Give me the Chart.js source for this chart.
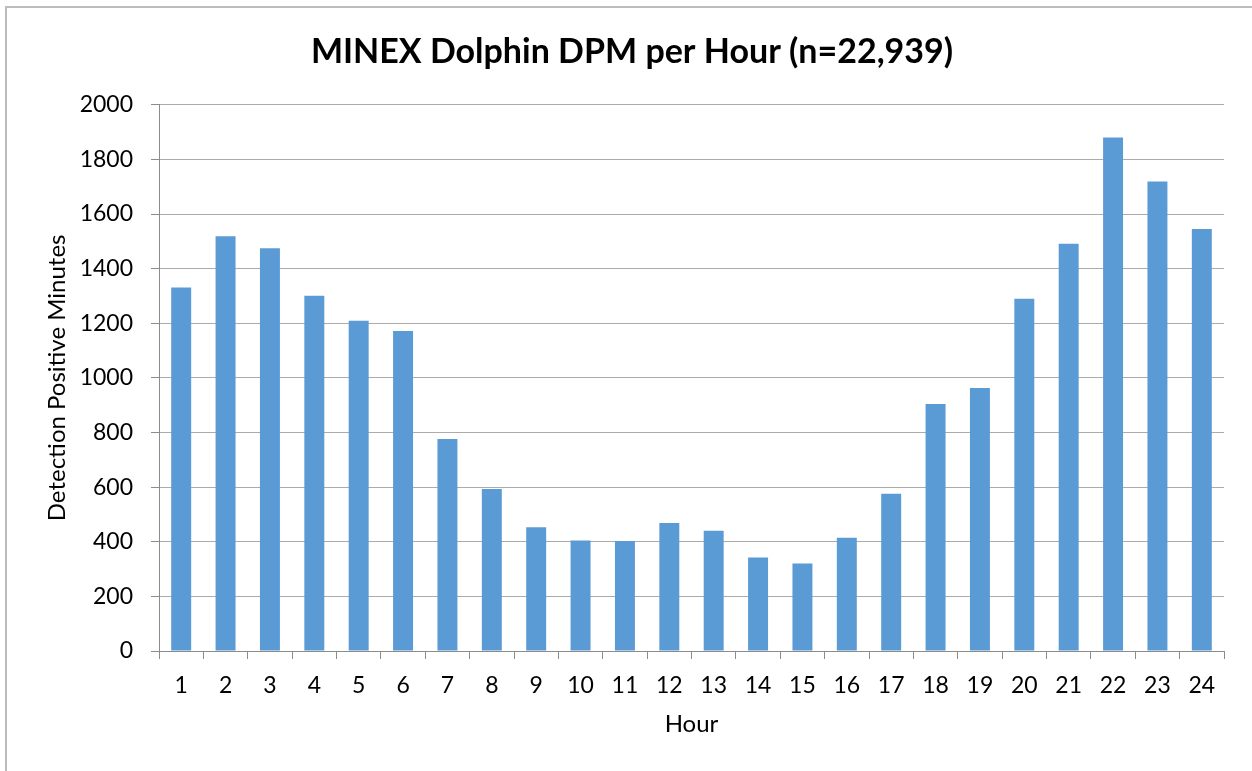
<!DOCTYPE html>
<html>
<head>
<meta charset="utf-8">
<script src="https://cdn.jsdelivr.net/npm/chart.js@4.4.1/dist/chart.umd.min.js"></script>
<style>
  html, body { margin: 0; padding: 0; background: #fff; overflow: hidden; }
  #frame {
    position: absolute; left: 5px; top: 6px; width: 1300px; height: 820px;
    border-left: 2px solid #bcbcbc; border-top: 2px solid #bcbcbc;
  }
  #wrap { position: absolute; left: 0; top: 0; width: 1252px; height: 771px; }
</style>
</head>
<body>
<div id="frame"></div>
<div id="wrap"><canvas id="grafico"></canvas></div>
<script>
// dati
var ore = ["1","2","3","4","5","6","7","8","9","10","11","12",
           "13","14","15","16","17","18","19","20","21","22","23","24"];
var dpm = [1331, 1519, 1475, 1301, 1209, 1172, 776, 593, 453, 405, 403, 469,
           440, 342, 320, 415, 576, 904, 963, 1290, 1491, 1880, 1719, 1545];
var yMin = 0;
var yMax = 2000;
var yStep = 200;

var titolo = "MINEX Dolphin DPM per Hour (n=22,939)";
var titoloX = "Hour";
var titoloY = "Detection Positive Minutes";

var font = "Lato, 'Open Sans', sans-serif";
var grigioAsse = "#8c8c8c";
var grigioGriglia = "#ababab";

Chart.defaults.font.family = font;
Chart.defaults.color = "#000";

var ctx = document.getElementById("grafico");
var myChart = new Chart(ctx, {
    type: 'bar',
    data: {
        labels: ore,
        datasets: [{
            label: "DPM",
            data: dpm,
            backgroundColor: "#5b9bd5",
            borderWidth: 0,
            barPercentage: 0.45,
            categoryPercentage: 1
        }]
    },
    options: {
        responsive: true,
        maintainAspectRatio: false,
        animation: false,
        layout: { padding: { left: 40, right: 28, top: 0, bottom: 0 } },
        plugins: {
            legend: { display: false },
            tooltip: { enabled: false },
            title: {
                display: true,
                text: titolo,
                color: "#000",
                font: { size: 34, weight: 'bold' },
                padding: { top: 32, bottom: 32 }
            }
        },
        scales: {
            x: {
                afterFit: function(s){ s.height = 120; },
                grid: {
                    display: true,
                    drawOnChartArea: false,
                    tickLength: 8,
                    tickColor: grigioAsse
                },
                border: { color: grigioAsse, width: 1 },
                ticks: { font: { size: 23 }, padding: 13, color: "#000", maxRotation: 0 },
                title: {
                    display: true,
                    text: titoloX,
                    color: "#000",
                    font: { size: 24 },
                    padding: { top: 4, bottom: 32 }
                }
            },
            y: {
                min: yMin,
                max: yMax,
                afterFit: function(s){ s.width = 119; },
                grid: {
                    color: grigioGriglia,
                    tickColor: grigioAsse,
                    tickLength: 8,
                    lineWidth: 1
                },
                border: { color: grigioAsse, width: 1 },
                ticks: {
                    stepSize: yStep,
                    font: { size: 23 },
                    padding: 18,
                    color: "#000",
                    callback: function(v){ return String(v); }
                },
                title: {
                    display: true,
                    text: titoloY,
                    color: "#000",
                    font: { size: 24 },
                    padding: { top: 3, bottom: 4 }
                }
            }
        }
    }
});
</script>
</body>
</html>
